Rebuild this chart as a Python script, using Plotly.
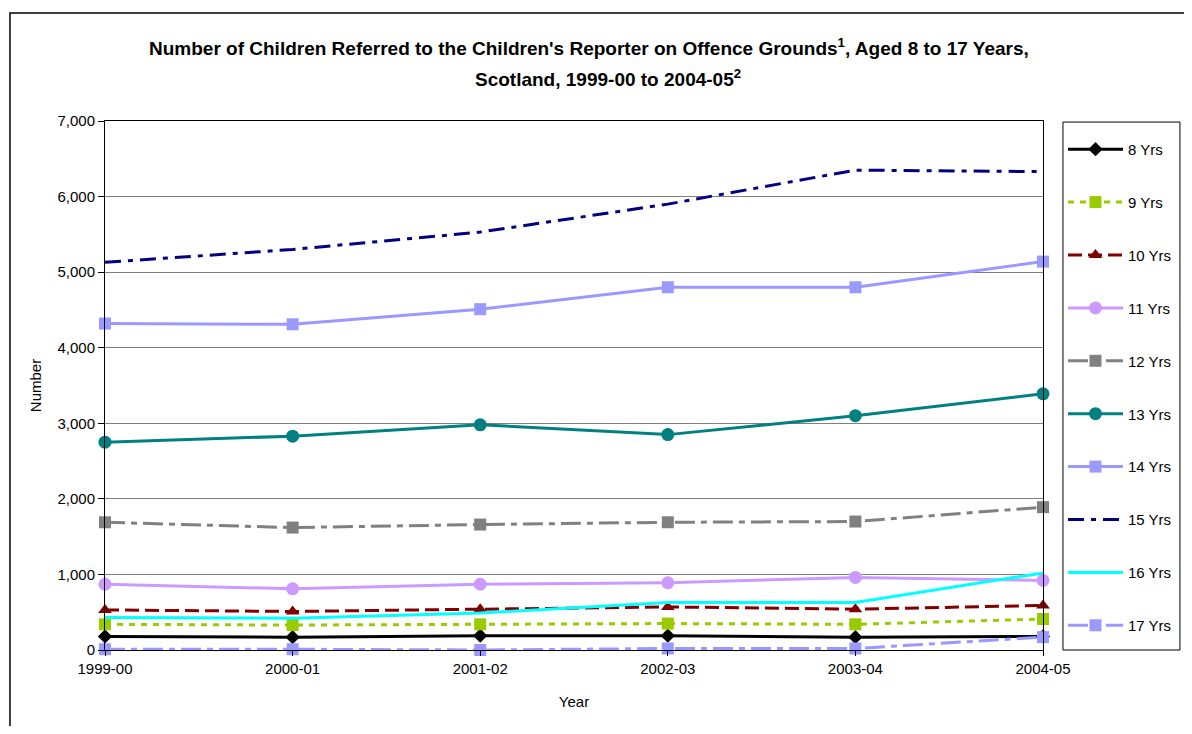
import plotly.graph_objects as go

years = ["1999-00", "2000-01", "2001-02", "2002-03", "2003-04", "2004-05"]

yrs8 = [180, 170, 190, 190, 170, 180]
yrs9 = [340, 330, 340, 350, 340, 410]
yrs10 = [530, 510, 540, 570, 540, 590]
yrs11 = [870, 810, 870, 890, 960, 920]
yrs12 = [1690, 1620, 1660, 1690, 1700, 1890]
yrs13 = [2750, 2830, 2980, 2850, 3100, 3390]
yrs14 = [4320, 4310, 4510, 4800, 4800, 5140]
yrs15 = [5130, 5300, 5530, 5900, 6350, 6330]
yrs16 = [430, 420, 490, 630, 630, 1020]
yrs17 = [10, 10, 0, 20, 20, 170]

title_line1 = "Number of Children Referred to the Children's Reporter on Offence Grounds<sup>1</sup>, Aged 8 to 17 Years,"
title_line2 = "Scotland, 1999-00 to 2004-05<sup>2</sup>"

series = [
    ("8 Yrs", yrs8, "#000000", "solid", "diamond", 11),
    ("9 Yrs", yrs9, "#99CC00", "6px,6px", "square", 12),
    ("10 Yrs", yrs10, "#800000", "14px,6px", "triangle-up", 12),
    ("11 Yrs", yrs11, "#CC99FF", "solid", "circle", 13),
    ("12 Yrs", yrs12, "#808080", "20px,6px,6px,6px", "square", 12),
    ("13 Yrs", yrs13, "#008080", "solid", "circle", 13),
    ("14 Yrs", yrs14, "#9999FF", "solid", "square", 12),
    ("15 Yrs", yrs15, "#000080", "16px,7px,5px,7px", None, 0),
    ("16 Yrs", yrs16, "#00FFFF", "solid", None, 0),
    ("17 Yrs", yrs17, "#9999FF", "20px,6px,6px,6px", "square", 12),
]

FONT = "Liberation Sans, Arial, sans-serif"

fig = go.Figure()
for i, (name, vals, color, dash, symbol, msize) in enumerate(series):
    mode = "lines+markers" if symbol else "lines"
    kw = {}
    if symbol:
        kw["marker"] = dict(symbol=symbol, size=msize, color=color)
    fig.add_trace(go.Scatter(
        x=years, y=vals, name=name, mode=mode,
        line=dict(color=color, width=3, dash=dash),
        cliponaxis=False, legendgroup=f"g{i}", **kw))

fig.update_layout(
    width=1176, height=718,
    margin=dict(l=97, r=141, t=113, b=76),
    paper_bgcolor="white", plot_bgcolor="white",
    font=dict(family=FONT, size=15, color="black"),
    showlegend=True,
    legend=dict(
        xref="container", yref="container",
        x=0.8971, xanchor="left", y=0.826, yanchor="top",
        borderwidth=0, bgcolor="rgba(0,0,0,0)",
        font=dict(family=FONT, size=15),
        tracegroupgap=30.4, itemwidth=55, maxheight=700,
        traceorder="grouped"),
    xaxis=dict(
        type="category", range=[0, 5], automargin=False,
        showline=True, linecolor="black", linewidth=1, mirror=True,
        ticks="outside", ticklen=5, tickcolor="black",
        showgrid=False, tickfont=dict(size=15),
        title=dict(text="Year", font=dict(size=15), standoff=20)),
    yaxis=dict(
        range=[0, 7000], dtick=1000, tickformat=",", automargin=False,
        showline=True, linecolor="black", linewidth=1, mirror=True,
        ticks="outside", ticklen=6, tickcolor="black",
        showgrid=True, gridcolor="#808080", gridwidth=1,
        zeroline=False, tickfont=dict(size=15),
        title=dict(text="Number", font=dict(size=15), standoff=12)),
)

fig.add_annotation(text=title_line1, xref="paper", yref="paper",
                   x=0.516, y=1.140, xanchor="center", yanchor="middle",
                   showarrow=False,
                   font=dict(family=FONT, size=19, color="black", weight="bold"))
fig.add_annotation(text=title_line2, xref="paper", yref="paper",
                   x=0.536, y=1.081, xanchor="center", yanchor="middle",
                   showarrow=False,
                   font=dict(family=FONT, size=19, color="black", weight="bold"))

# outer chart-area border
fig.add_shape(type="rect", xref="paper", yref="paper",
              x0=-0.1013, x1=1.165, y0=-0.2, y1=1.204,
              line=dict(color="black", width=1.5), fillcolor="rgba(0,0,0,0)",
              layer="below")
# legend box
fig.add_shape(type="rect", xref="paper", yref="paper",
              x0=1.0213, x1=1.146, y0=0.0, y1=0.998,
              line=dict(color="black", width=1), fillcolor="rgba(0,0,0,0)",
              layer="below")

fig.write_html("out.html")
